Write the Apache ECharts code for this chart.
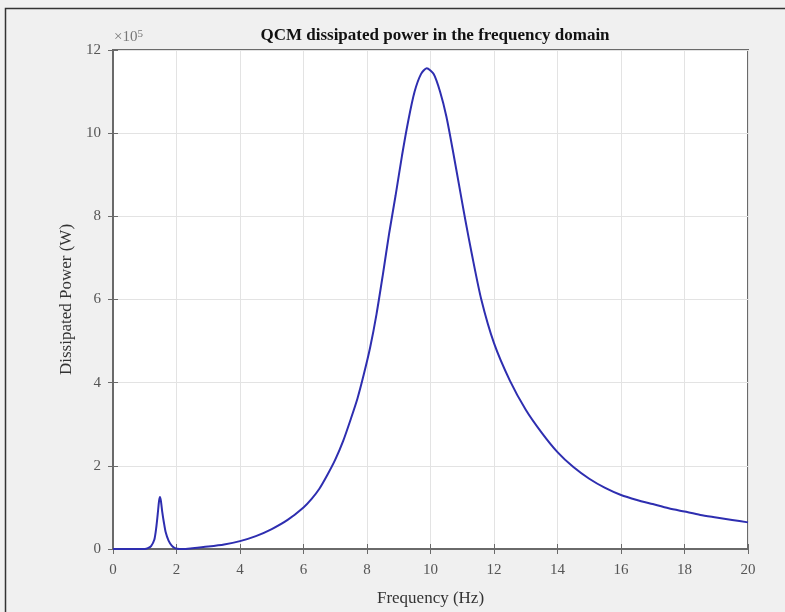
<!DOCTYPE html>
<html>
<head>
<meta charset="utf-8">
<script src="https://cdn.jsdelivr.net/npm/echarts@6/dist/echarts.min.js"></script>
<style>
html,body{margin:0;padding:0;background:#f0f0f0;}
#c{width:785px;height:612px;}
</style>
</head>
<body>
<div id="c"></div>
<script>
// Frequency (Hz)
var freq = [0, 0.5, 1.0, 1.1, 1.2, 1.3, 1.36, 1.41, 1.45, 1.48, 1.51, 1.55, 1.6, 1.66, 1.75, 1.85, 1.95, 2.1,
  2.2, 2.5, 3.0, 3.5, 4.0, 4.5, 5.0, 5.5, 6.0, 6.25, 6.5, 6.75, 7.0, 7.25, 7.5, 7.7, 7.9, 8.1, 8.3, 8.5, 8.7, 8.9,
  9.1, 9.3, 9.5, 9.7, 9.88, 10.1, 10.3, 10.5, 10.7, 10.9, 11.1, 11.3, 11.6, 12.0, 12.5, 13.0, 13.5, 14.0,
  14.5, 15.0, 15.5, 16.0, 16.5, 17.0, 17.5, 18.0, 18.5, 19.0, 19.5, 20.0];
// Dissipated power (x10^5 W)
var power = [0, 0, 0, 0.02, 0.07, 0.22, 0.5, 0.85, 1.15, 1.25, 1.15, 0.9, 0.65, 0.4, 0.2, 0.08, 0.02, 0,
  0, 0.02, 0.06, 0.11, 0.19, 0.31, 0.48, 0.7, 1.0, 1.2, 1.45, 1.78, 2.15, 2.6, 3.15, 3.62, 4.2, 4.85, 5.65, 6.6, 7.6, 8.5,
  9.45, 10.3, 11.0, 11.42, 11.56, 11.42, 11.0, 10.4, 9.6, 8.75, 7.9, 7.1, 6.0, 4.95, 4.05, 3.35, 2.8, 2.33,
  1.97, 1.69, 1.47, 1.3, 1.18, 1.08, 0.98, 0.9, 0.82, 0.76, 0.7, 0.64];
var xTicks = [0, 2, 4, 6, 8, 10, 12, 14, 16, 18, 20];
var yTicks = [0, 2, 4, 6, 8, 10, 12];

var pts = freq.map(function (f, i) { return [f, power[i]]; });
var serif = '"Liberation Serif", "DejaVu Serif", serif';
var axisCol = '#6a6a6a';
var chart = echarts.init(document.getElementById('c'));
chart.setOption({
  backgroundColor: '#f0f0f0',
  animation: false,
  title: {
    text: 'QCM dissipated power in the frequency domain',
    left: 430, top: 22, textAlign: 'center',
    textStyle: { fontFamily: serif, fontSize: 17, fontWeight: 'bold', color: '#111' }
  },
  graphic: [
    { type: 'rect', left: 3, top: 6, shape: { width: 900, height: 700 },
      style: { fill: 'none', stroke: '#333', lineWidth: 1.5 }, silent: true, z: 100 },
    { type: 'text', left: 114, top: 29,
      style: { text: '×10{s|5}', rich: { s: { fontSize: 11, verticalAlign: 'top', padding: [0, 0, 6, 0], fontFamily: serif, fill: '#777' } },
        fontFamily: serif, fontSize: 15, fill: '#777' } }
  ],
  grid: { left: 113, right: 37, top: 50, bottom: 61, show: true, backgroundColor: '#ffffff',
    borderColor: axisCol, borderWidth: 2 },
  xAxis: [{
    type: 'value', min: 0, max: 20, interval: 2,
    name: 'Frequency (Hz)', nameLocation: 'middle', nameGap: 41,
    nameTextStyle: { fontFamily: serif, fontSize: 17, color: '#333' },
    axisLine: { show: true, onZero: false, lineStyle: { color: axisCol, width: 2 } },
    axisTick: { show: true, inside: true, length: 5, lineStyle: { color: axisCol } },
    axisLabel: { fontFamily: serif, fontSize: 15, color: '#555', margin: 14, customValues: xTicks },
    splitLine: { show: true, lineStyle: { color: '#e3e3e3', width: 1 } }
  }, {
    type: 'value', min: 0, max: 20, interval: 2, position: 'top',
    axisLine: { show: true, lineStyle: { color: axisCol, width: 2 } },
    axisTick: { show: true, inside: true, length: 5, lineStyle: { color: axisCol } },
    axisLabel: { show: false }, splitLine: { show: false }
  }],
  yAxis: [{
    type: 'value', min: 0, max: 12, interval: 2,
    name: 'Dissipated Power (W)', nameLocation: 'middle', nameGap: 32,
    nameTextStyle: { fontFamily: serif, fontSize: 17, color: '#333' },
    axisLine: { show: true, onZero: false, lineStyle: { color: axisCol, width: 2 } },
    axisTick: { show: true, inside: true, length: 5, lineStyle: { color: axisCol } },
    axisLabel: { fontFamily: serif, fontSize: 15, color: '#555', margin: 12, customValues: yTicks },
    splitLine: { show: true, lineStyle: { color: '#e3e3e3', width: 1 } }
  }, {
    type: 'value', min: 0, max: 12, interval: 2, position: 'right',
    axisLine: { show: true, lineStyle: { color: axisCol, width: 2 } },
    axisTick: { show: true, inside: true, length: 5, lineStyle: { color: axisCol } },
    axisLabel: { show: false }, splitLine: { show: false }
  }],
  series: [{
    type: 'line', data: pts, showSymbol: false, smooth: 0.25,
    lineStyle: { color: '#2e2eb0', width: 2 }, z: 5
  }]
});
</script>
</body>
</html>
